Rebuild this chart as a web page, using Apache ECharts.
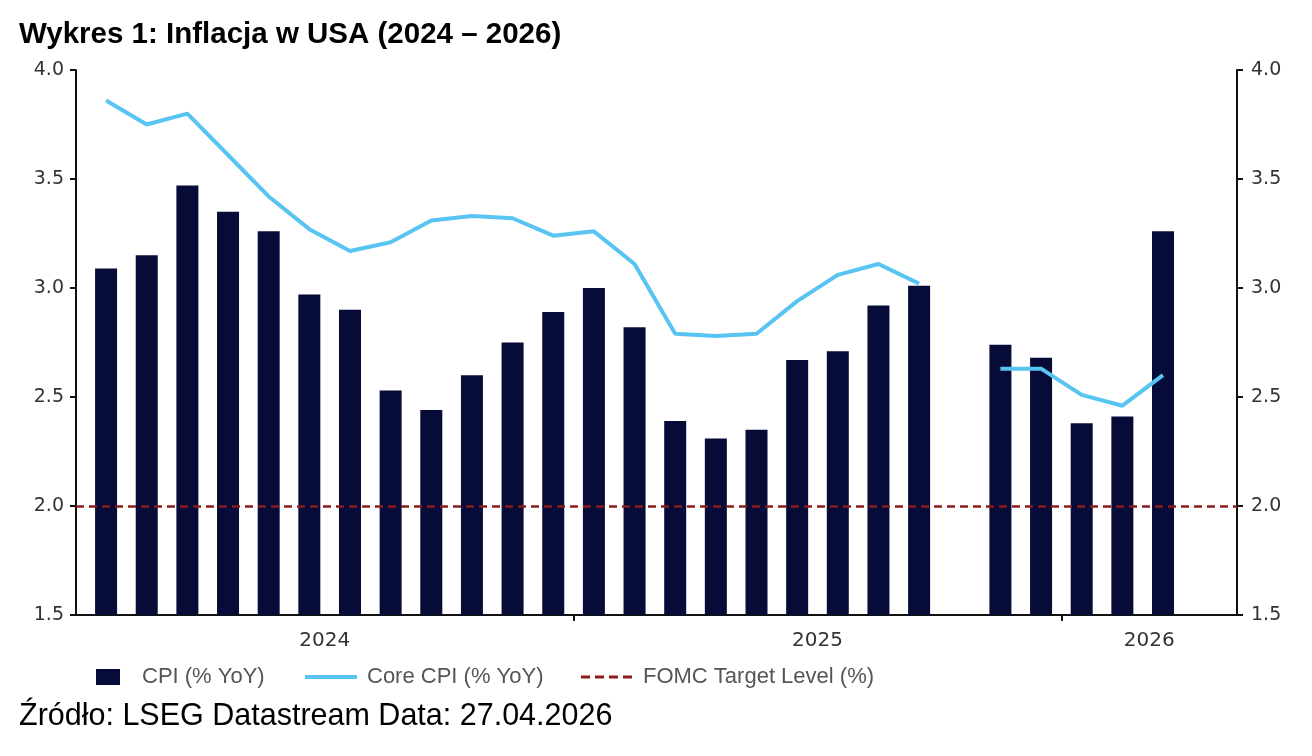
<!DOCTYPE html>
<html>
<head>
<meta charset="utf-8">
<script src="https://cdn.jsdelivr.net/npm/echarts@6/dist/echarts.min.js"></script>
<style>
  html, body { margin: 0; padding: 0; background: #fff; }
  #chart { width: 1312px; height: 756px; }
</style>
</head>
<body>
<div id="chart"></div>
<script>
// monthly data, Jan 2024 .. Mar 2026 (Oct 2025 missing)
var months = ['2024-01','2024-02','2024-03','2024-04','2024-05','2024-06','2024-07','2024-08','2024-09','2024-10','2024-11','2024-12',
              '2025-01','2025-02','2025-03','2025-04','2025-05','2025-06','2025-07','2025-08','2025-09','2025-10','2025-11','2025-12',
              '2026-01','2026-02','2026-03'];
var cpi = [3.09, 3.15, 3.47, 3.35, 3.26, 2.97, 2.90, 2.53, 2.44, 2.60, 2.75, 2.89,
           3.00, 2.82, 2.39, 2.31, 2.35, 2.67, 2.71, 2.92, 3.01, null, 2.74, 2.68,
           2.38, 2.41, 3.26];
var coreCpi = [3.86, 3.75, 3.80, 3.61, 3.42, 3.27, 3.17, 3.21, 3.31, 3.33, 3.32, 3.24,
               3.26, 3.11, 2.79, 2.78, 2.79, 2.94, 3.06, 3.11, 3.02, null, 2.63, 2.63,
               2.51, 2.46, 2.60];
var fomcTarget = 2.0;
var years = ['2024', '2025', '2026'];
var yTicks = [1.5, 2.0, 2.5, 3.0, 3.5, 4.0];

var xMin = -0.74, xMax = 27.82;
var yearBounds = [11.5, 23.5];   // between Dec and Jan
var yearCenters = [(xMin + yearBounds[0]) / 2, (yearBounds[0] + yearBounds[1]) / 2, (yearBounds[1] + xMax) / 2];

var chart = echarts.init(document.getElementById('chart'));

var axisFont = 'DejaVu Sans';
var txtFont = 'Liberation Sans';
var coreColor = '#58c4f2', fomcColor = '#8c1c1c';

function yAxisOpt(pos) {
  return {
    type: 'value',
    position: pos,
    min: yTicks[0],
    max: yTicks[yTicks.length - 1],
    interval: 0.5,
    axisLine: { show: true, onZero: false, lineStyle: { color: '#111', width: 2 } },
    axisTick: { show: true, inside: false, length: 6, lineStyle: { color: '#111', width: 2 } },
    axisLabel: {
      color: '#333', fontSize: 19, fontFamily: axisFont, margin: pos === 'left' ? 12 : 14,
      formatter: function (v) { return v.toFixed(1); }
    },
    splitLine: { show: false }
  };
}

chart.setOption({
  animation: false,
  backgroundColor: '#fff',
  title: [
    {
      text: 'Wykres 1: Inflacja w USA (2024 – 2026)',
      left: 19, top: 20, padding: 0,
      textStyle: { fontFamily: txtFont, fontWeight: 'bold', fontSize: 29.5, color: '#000' }
    },
    {
      text: 'Źródło: LSEG Datastream Data: 27.04.2026',
      left: 19, top: 701, padding: 0,
      textStyle: { fontFamily: txtFont, fontWeight: 'normal', fontSize: 30.5, color: '#000' }
    }
  ],
  legend: [
    {
      data: ['CPI (% YoY)'],
      left: 96, top: 666, padding: 0,
      icon: 'rect', itemWidth: 24, itemHeight: 16,
      textStyle: { fontFamily: txtFont, fontSize: 22, color: '#555', padding: [0, 0, 0, 17] }
    },
    {
      data: [
        { name: 'Core CPI (% YoY)', lineStyle: { width: 4, color: coreColor } },
        { name: 'FOMC Target Level (%)', lineStyle: { width: 3, color: fomcColor, type: [9, 5] } }
      ],
      left: 303, top: 666, padding: 0, itemGap: 36,
      itemWidth: 52, itemHeight: 16,
      itemStyle: { opacity: 0 },
      textStyle: { fontFamily: txtFont, fontSize: 22, color: '#555', padding: [0, 0, 0, 5] }
    }
  ],
  grid: { left: 76, right: 75, top: 70, bottom: 141, containLabel: false },
  xAxis: {
    type: 'value',
    min: xMin,
    max: xMax,
    axisLine: { show: true, onZero: false, lineStyle: { color: '#111', width: 2 } },
    axisTick: { show: true, customValues: yearBounds, length: 6, lineStyle: { color: '#111', width: 2 } },
    axisLabel: {
      customValues: yearCenters,
      color: '#333', fontSize: 20, fontFamily: axisFont, margin: 16,
      formatter: function (v) {
        if (v < yearBounds[0]) return years[0];
        if (v < yearBounds[1]) return years[1];
        return years[2];
      }
    },
    splitLine: { show: false }
  },
  yAxis: [yAxisOpt('left'), yAxisOpt('right')],
  series: [
    {
      name: 'CPI (% YoY)',
      type: 'bar',
      barWidth: 22,
      itemStyle: { color: '#060b38' },
      data: cpi.map(function (v, i) { return [i, v]; }),
      z: 2
    },
    {
      name: 'Core CPI (% YoY)',
      type: 'line',
      symbol: 'none',
      connectNulls: false,
      lineStyle: { color: coreColor, width: 4 },
      itemStyle: { color: coreColor },
      data: coreCpi.map(function (v, i) { return [i, v]; }),
      z: 4
    },
    {
      name: 'FOMC Target Level (%)',
      type: 'line',
      symbol: 'none',
      lineStyle: { color: fomcColor, width: 3, type: [9, 5] },
      itemStyle: { color: fomcColor },
      data: [],
      markLine: {
        silent: true,
        symbol: 'none',
        label: { show: false },
        lineStyle: { color: fomcColor, width: 2.5, type: [8, 5] },
        data: [{ yAxis: fomcTarget }]
      },
      z: 3
    }
  ]
});
</script>
</body>
</html>
